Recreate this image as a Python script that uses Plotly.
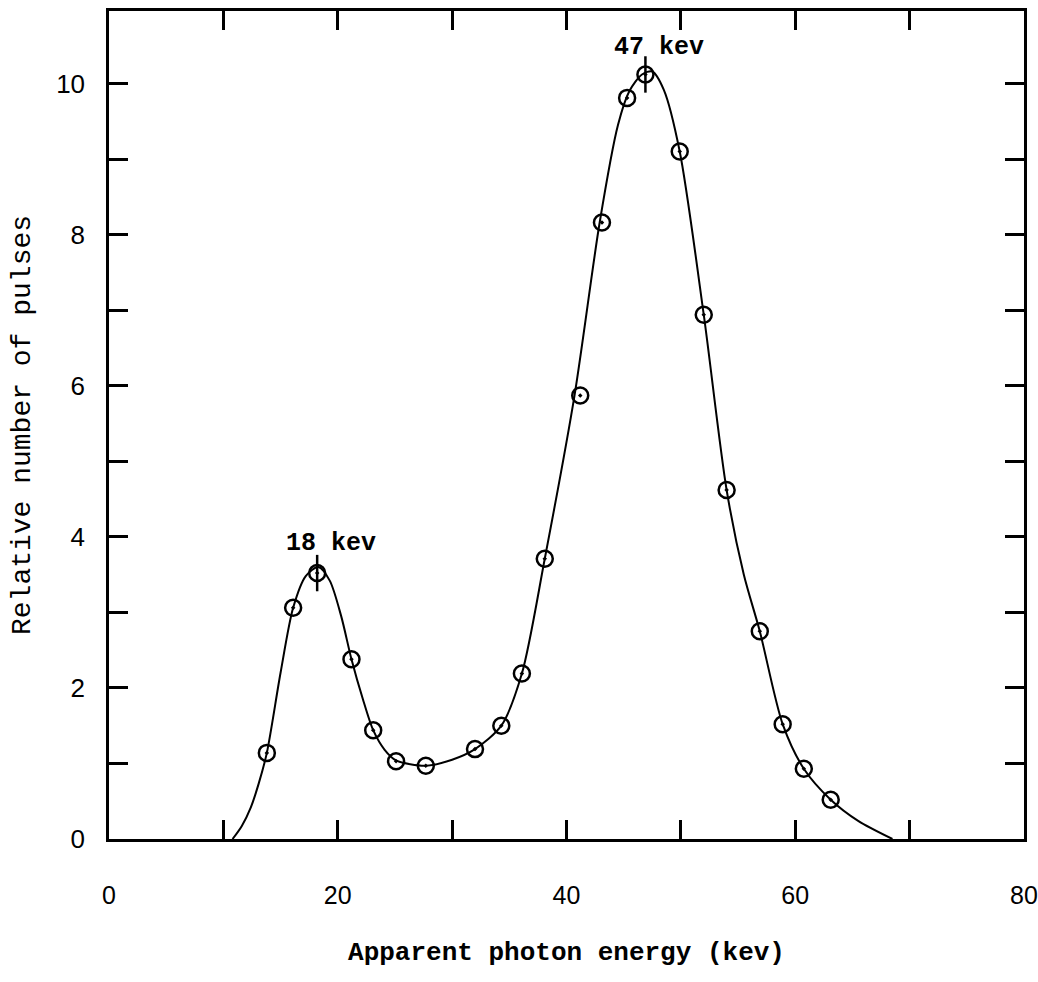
import plotly.graph_objects as go

# Measured points (apparent photon energy in keV, relative number of pulses)
energy_kev = [13.8, 16.1, 18.2, 21.2, 23.1, 25.1, 27.7, 32.0, 34.3, 36.1, 38.1,
              41.2, 43.1, 45.3, 46.9, 49.9, 52.0, 54.0, 56.9, 58.9, 60.75, 63.1]
pulses = [1.14, 3.06, 3.52, 2.38, 1.44, 1.03, 0.97, 1.19, 1.50, 2.19, 3.71,
          5.87, 8.16, 9.81, 10.12, 9.10, 6.94, 4.62, 2.75, 1.52, 0.93, 0.52]

# Hand-drawn smooth curve
curve_kev = [10.8, 11.6, 12.4, 13.1, 13.8, 15.0, 16.1, 17.2, 18.3, 19.3, 20.3, 21.2,
             22.2, 23.1, 24.1, 25.1, 27.7, 30.0, 32.0, 34.3, 36.1, 38.1, 40.7,
             42.9, 44.5, 45.5, 46.6, 47.5, 48.5, 49.9, 52.0, 54.0, 55.5, 56.9,
             58.9, 60.75, 63.1, 65.5, 68.5]
curve_pulses = [0.0, 0.17, 0.42, 0.74, 1.14, 2.2, 3.06, 3.48, 3.6, 3.42, 2.95, 2.38,
                1.85, 1.44, 1.18, 1.04, 0.97, 1.05, 1.19, 1.50, 2.19, 3.71, 5.87,
                8.16, 9.45, 9.9, 10.12, 10.16, 9.92, 9.10, 6.94, 4.62, 3.5, 2.75,
                1.52, 0.93, 0.52, 0.24, 0.0]

# Peaks
peak_kev = [18.2, 46.9]
peak_pulses = [3.52, 10.12]
peak_labels = ["18 kev", "47 kev"]
label_yshift = [30, 27]

x_ticks = [0, 20, 40, 60, 80]
y_ticks = [0, 2, 4, 6, 8, 10]

mono = "Liberation Mono, Courier New, monospace"
sans = "Liberation Sans, Arial, sans-serif"

fig = go.Figure()
fig.add_trace(go.Scatter(
    x=curve_kev, y=curve_pulses, mode="lines",
    line=dict(color="black", width=2, shape="spline", smoothing=0.8),
    hoverinfo="skip", showlegend=False))
fig.add_trace(go.Scatter(
    x=energy_kev, y=pulses, mode="markers",
    marker=dict(symbol="circle-open-dot", size=16, color="black",
                line=dict(width=2.5, color="black")),
    showlegend=False))
fig.add_trace(go.Scatter(
    x=peak_kev, y=peak_pulses, mode="markers",
    marker=dict(symbol="line-ns-open", size=26, color="black",
                line=dict(width=2.5, color="black")),
    showlegend=False))

for px, py, lab, ys in zip(peak_kev, peak_pulses, peak_labels, label_yshift):
    fig.add_annotation(x=px, y=py, text="<b>" + lab + "</b>", showarrow=False,
                       xshift=14, yshift=ys,
                       font=dict(family=mono, size=25, color="black"))

axis_common = dict(
    showline=True, linecolor="black", linewidth=2.5, mirror="ticks",
    ticks="inside", ticklen=19, tickwidth=2.5, tickcolor="black",
    showgrid=False, zeroline=False, automargin=False,
    ticklabeloverflow="allow",
)

fig.update_xaxes(
    range=[0, 80], tickvals=x_ticks, ticktext=[str(v) for v in x_ticks],
    minor=dict(dtick=10, ticks="inside", ticklen=19, tickwidth=2.5, tickcolor="black"),
    ticklabelstandoff=32,
    tickfont=dict(family=sans, size=25, color="black"),
    title=dict(text="<b>Apparent photon energy (kev)</b>",
               font=dict(family=mono, size=26, color="black"), standoff=35),
    **axis_common)
fig.update_yaxes(
    range=[0, 10.96], tickvals=y_ticks, ticktext=[str(v) for v in y_ticks],
    minor=dict(dtick=1, ticks="inside", ticklen=19, tickwidth=2.5, tickcolor="black"),
    ticklabelstandoff=16,
    tickfont=dict(family=sans, size=26, color="black"),
    title=dict(text="Relative number of pulses",
               font=dict(family=mono, size=28, color="black"), standoff=18),
    **axis_common)

fig.update_layout(
    width=1038, height=982,
    margin=dict(l=109, r=14, t=11, b=143),
    plot_bgcolor="white", paper_bgcolor="white",
    showlegend=False,
)

fig.write_html("out.html",
               config={"displayModeBar": False},
               post_script="document.body.style.margin='0';"
                           "document.body.style.overflow='hidden';")
